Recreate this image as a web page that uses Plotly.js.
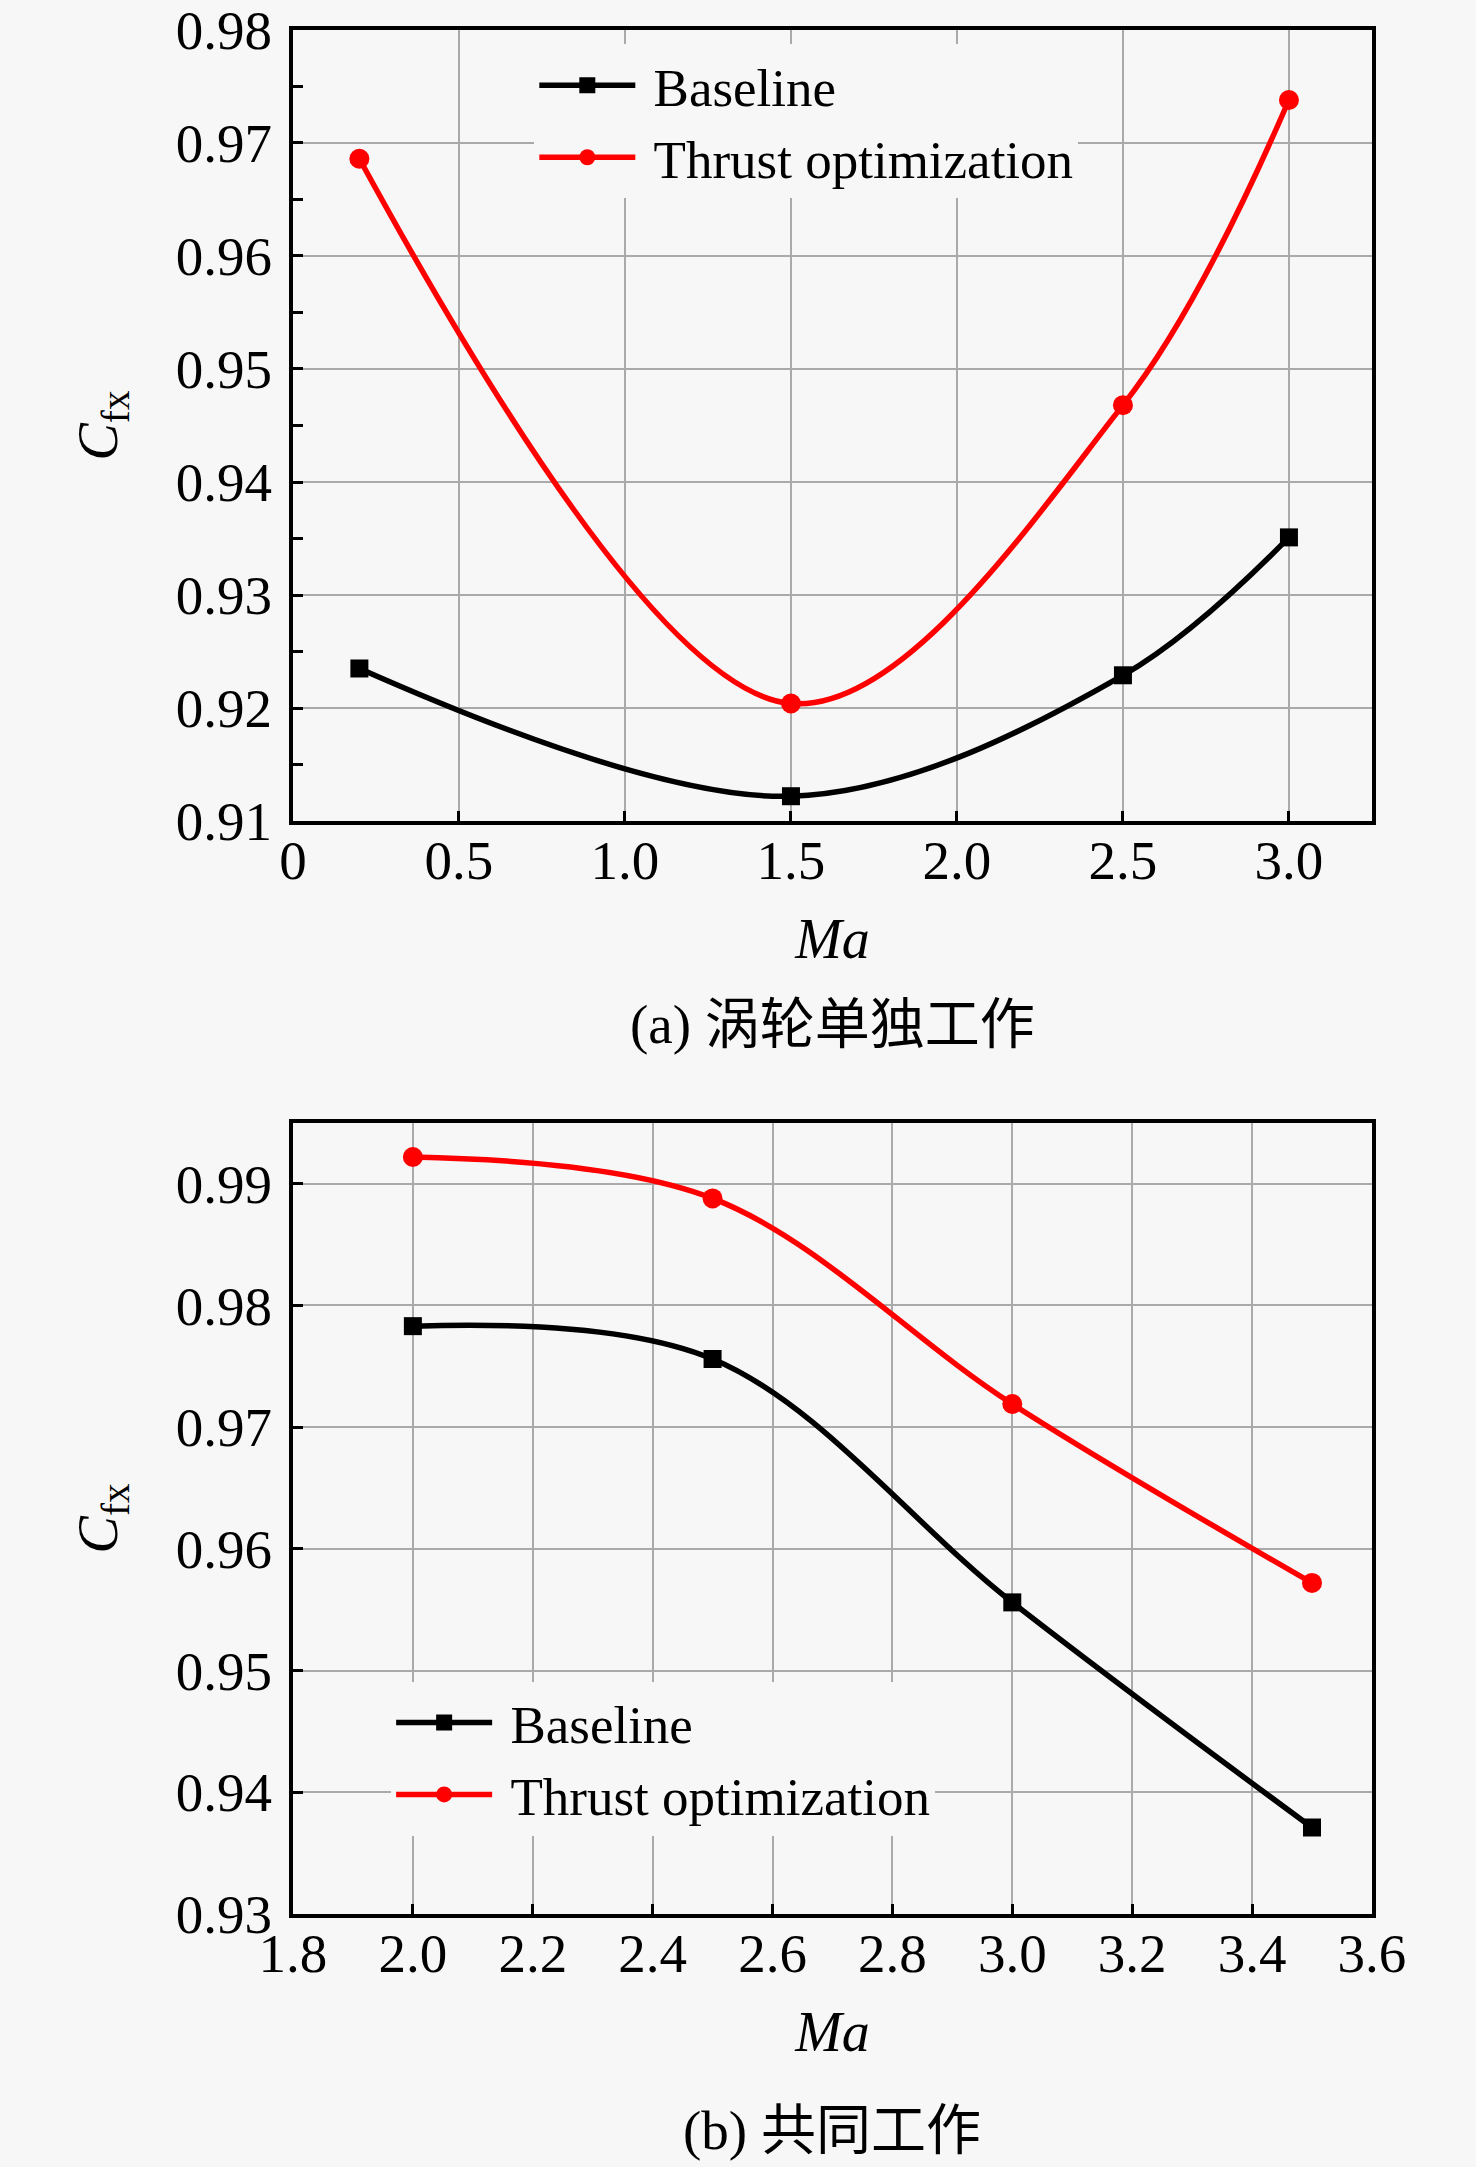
<!DOCTYPE html>
<html>
<head>
<meta charset="utf-8">
<script src="https://cdn.plot.ly/plotly-3.0.1.min.js"></script>
<style>
  html, body { margin: 0; padding: 0; background: #f7f7f7; }
  #chart { width: 1476px; height: 2167px; }
</style>
</head>
<body>
<div id="chart"></div>
<script>
// (a) turbine alone
var ma_a = [0.2, 1.5, 2.5, 3.0];
var base_a = [0.9235, 0.9122, 0.9229, 0.9351];
var thrust_a = [0.9686, 0.9204, 0.9468, 0.9738];

// (b) working together
var ma_b = [2.0, 2.5, 3.0, 3.5];
var base_b = [0.9783, 0.9756, 0.9556, 0.9371];
var thrust_b = [0.9922, 0.9888, 0.9719, 0.9572];

var xticks_a = [0, 0.5, 1.0, 1.5, 2.0, 2.5, 3.0];
var xlabels_a = ["0", "0.5", "1.0", "1.5", "2.0", "2.5", "3.0"];

// leading no-break space keeps a gap between legend symbol and text
var seriesNames = ["\u00a0Baseline", "\u00a0Thrust optimization"];
var captions = ["(a) 涡轮单独工作", "(b) 共同工作"];

var font = "Liberation Serif, Noto Sans CJK SC, serif";
var bg = "#f7f7f7";

function lineTrace(x, y, name, color, symbol, xa, ya, legend) {
  return {
    x: x,
    y: y,
    name: name,
    type: "scatter",
    mode: "lines+markers",
    line: { color: color, width: 5.5, shape: "spline", smoothing: 1 },
    marker: { color: color, symbol: symbol, size: symbol === "square" ? 18 : 20 },
    xaxis: xa,
    yaxis: ya,
    legend: legend,
  };
}

var data = [
  lineTrace(ma_a, base_a, seriesNames[0], "#000000", "square", "x", "y", "legend"),
  lineTrace(ma_a, thrust_a, seriesNames[1], "#ff0000", "circle", "x", "y", "legend"),
  lineTrace(ma_b, base_b, seriesNames[0], "#000000", "square", "x2", "y2", "legend2"),
  lineTrace(ma_b, thrust_b, seriesNames[1], "#ff0000", "circle", "x2", "y2", "legend2"),
];

var axisCommon = {
  showline: true,
  linecolor: "#000000",
  linewidth: 4,
  mirror: true,
  ticks: "inside",
  ticklen: 10,
  tickwidth: 3,
  tickcolor: "#000000",
  showgrid: true,
  gridcolor: "#aaaaaa",
  gridwidth: 1.5,
  zeroline: false,
  tickfont: { family: font, size: 55, color: "#000000" },
};

function axis(extra) {
  return Object.assign({}, axisCommon, extra);
}

var ytitle = { text: "<i>C</i><sub>fx</sub>", font: { family: font, size: 56, color: "#000000" }, standoff: 41 };
var xtitle = { text: "<i>Ma</i>", font: { family: font, size: 56, color: "#000000" }, standoff: 30 };

var legendCommon = {
  bgcolor: bg,
  font: { family: font, size: 53, color: "#000000" },
  xref: "paper",
  yref: "paper",
  xanchor: "left",
  yanchor: "top",
  itemwidth: 96,
  tracegroupgap: 0,
};

var layout = {
  width: 1476,
  height: 2167,
  paper_bgcolor: bg,
  plot_bgcolor: bg,
  margin: { l: 0, r: 0, t: 0, b: 0 },
  xaxis: axis({
    domain: [0.1985, 0.9295],
    range: [0, 3.25],
    tickvals: xticks_a,
    ticktext: xlabels_a,
    anchor: "y",
    ticklabelstandoff: -12,
    title: xtitle,
  }),
  yaxis: axis({
    domain: [0.6211, 0.9862],
    range: [0.91, 0.98],
    dtick: 0.01,
    tickformat: ".2f",
    anchor: "x",
    ticklabelstandoff: 6,
    minor: { dtick: 0.005, ticks: "inside", ticklen: 10, tickwidth: 3, tickcolor: "#000000", showgrid: false },
    title: ytitle,
  }),
  xaxis2: axis({
    domain: [0.1985, 0.9295],
    range: [1.8, 3.6],
    dtick: 0.2,
    tick0: 1.8,
    tickformat: ".1f",
    anchor: "y2",
    ticklabelstandoff: -12,
    title: xtitle,
  }),
  yaxis2: axis({
    domain: [0.1168, 0.4818],
    range: [0.93, 0.995],
    dtick: 0.01,
    tickformat: ".2f",
    anchor: "x2",
    ticklabelstandoff: 6,
    title: ytitle,
  }),
  showlegend: true,
  legend: Object.assign({}, legendCommon, { x: 0.362, y: 0.9795 }),
  legend2: Object.assign({}, legendCommon, { x: 0.265, y: 0.224 }),
  annotations: [
    {
      text: captions[0],
      xref: "paper", yref: "paper",
      x: 0.564, y: 0.5272,
      xanchor: "center", yanchor: "middle",
      showarrow: false,
      font: { family: font, size: 55, color: "#000000" },
    },
    {
      text: captions[1],
      xref: "paper", yref: "paper",
      x: 0.564, y: 0.017,
      xanchor: "center", yanchor: "middle",
      showarrow: false,
      font: { family: font, size: 55, color: "#000000" },
    },
  ],
};

var config = { displayModeBar: false, responsive: false };

Plotly.newPlot("chart", data, layout, config);
</script>
</body>
</html>
